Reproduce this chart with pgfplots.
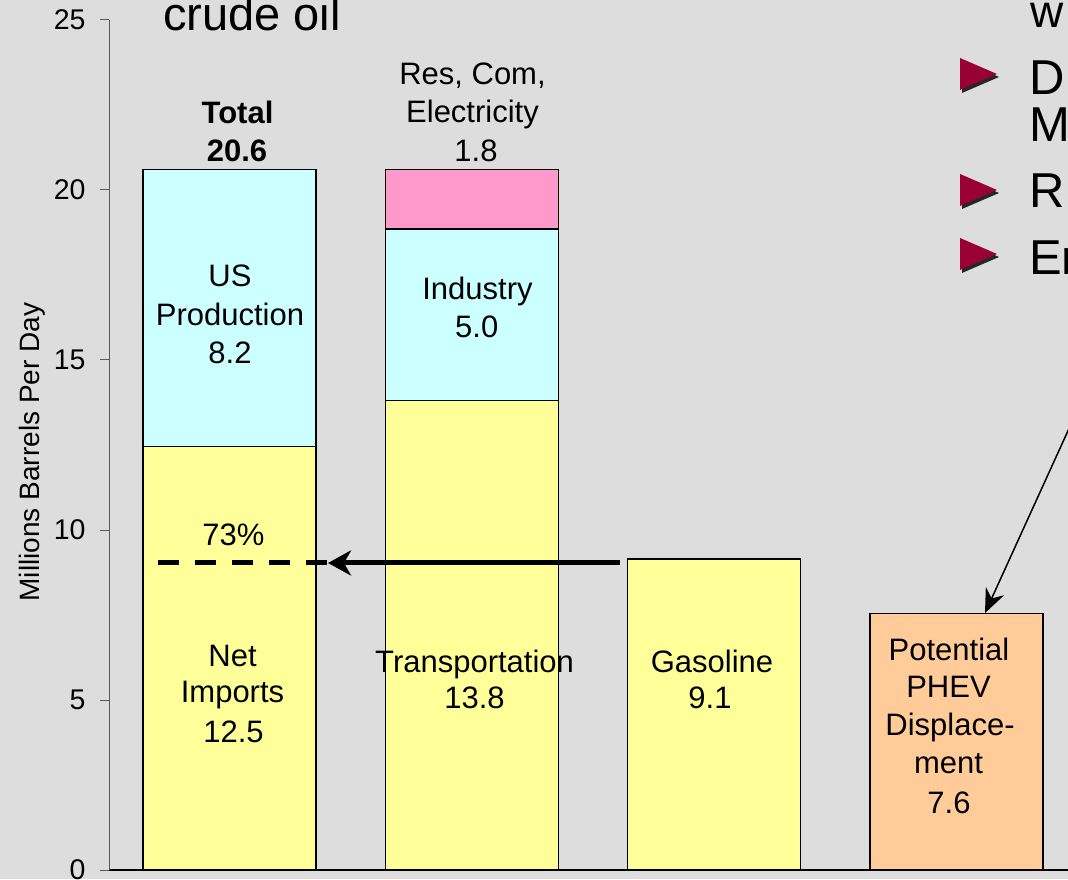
\documentclass[border=0pt]{standalone}
\usepackage{pgfplots}
\pgfplotsset{compat=1.18}
\usepackage{fontspec}
\setmainfont{Liberation Sans}
\usetikzlibrary{arrows.meta}
\definecolor{bg}{HTML}{DDDDDD}
\definecolor{cyel}{HTML}{FFFF99}
\definecolor{ccyan}{HTML}{CCFFFF}
\definecolor{cpink}{HTML}{FF99CC}
\definecolor{corange}{HTML}{FFCC99}
\definecolor{bulletred}{HTML}{990033}
\newcommand\bl{\fontsize{31}{38}\selectfont}
\newcommand\T[4][\bl]{\node[anchor=base,inner sep=0pt,font=#1] at ({#2pt},{879pt-#3pt}) {#4};}
\begin{document}
\begin{tikzpicture}
\useasboundingbox (0pt,0pt) rectangle (1068pt,879pt);
\clip (0pt,0pt) rectangle (1068pt,879pt);
\fill[bg] (0pt,0pt) rectangle (1068pt,879pt);
\begin{axis}[
 at={(109pt,9pt)}, anchor=south west, scale only axis,
 width=959pt, height=850pt,
 xmin=-0.4973, xmax=3.4601, ymin=0, ymax=25,
 axis x line=bottom, axis y line=left,
 axis line style={-},
 x axis line style={-, black, line width=1.3pt},
 y axis line style={-, black!65, line width=1pt},
 xtick=\empty,
 ytick={0,5,10,15,20,25},
 tick align=outside, major tick length=9pt,
 ytick style={black!65, line width=1pt},
 yticklabel style={font=\fontsize{28.5}{30}\selectfont, xshift=-11pt},
 /pgf/number format/assume math mode=true,
 ybar stacked, bar width=173pt,
 every axis plot/.append style={draw=black, line width=1.3pt},
 clip=false,
]
\addplot[fill=cyel] coordinates {(0,12.45) (1,13.8) (2,9.15) (3,0)};
\addplot[fill=ccyan] coordinates {(0,8.15) (1,5.05) (2,0) (3,0)};
\addplot[fill=cpink] coordinates {(0,0) (1,1.75) (2,0) (3,0)};
\addplot[fill=corange] coordinates {(0,0) (1,0) (2,0) (3,7.55)};
\end{axis}
% arrows
\draw[line width=5pt, dash pattern=on 21pt off 16pt] (158pt,316pt) -- (330pt,316pt);
\draw[line width=5pt, -{Stealth[length=23pt,width=25pt,inset=7pt]}] (620pt,316pt) -- (328pt,316pt);
\draw[line width=1.5pt, -{Stealth[length=24pt,width=20pt,inset=8pt]}] (1082pt,479pt) -- (985pt,266pt);
% bar labels
\T[\fontsize{31}{38}\selectfont\bfseries]{237.5}{124}{Total}
\T[\fontsize{31}{38}\selectfont\bfseries]{237}{162}{20.6}
\T{230}{287}{US}
\T{230}{326}{Production}
\T{230}{364}{8.2}
\T{233.5}{546}{73\%}
\T{232.5}{666}{Net}
\T{232.5}{702}{Imports}
\T{233.5}{742}{12.5}
\T{472.5}{85}{Res, Com,}
\T{472.5}{123}{Electricity}
\T{476}{162}{1.8}
\T{477.5}{300}{Industry}
\T{476.7}{338}{5.0}
\T{474.6}{672}{Transportation}
\T{474.5}{708}{13.8}
\T{712}{672}{Gasoline}
\T{710}{708}{9.1}
\T{949}{660}{Potential}
\T{948.5}{697}{PHEV}
\T{950}{735}{Displace-}
\T{948.5}{773}{ment}
\T{949}{813}{7.6}
% y label
\node[rotate=90, anchor=base, inner sep=0pt, font=\fontsize{28}{30}\selectfont] at (39pt,427pt) {Millions Barrels Per Day};
% title fragment
\node[anchor=base west, inner sep=0pt, font=\fontsize{47}{50}\selectfont] at (163pt,848pt) {crude oil};
% bullets on the right
\node[anchor=base west, inner sep=0pt, font=\fontsize{46}{50}\selectfont] at (1030pt,851pt) {w};
\foreach \ty in {58,174,238}{
  \fill[black!85] (962pt,{879pt-(\ty pt)-3pt}) -- (999pt,{879pt-(\ty pt)-19pt}) -- (962pt,{879pt-(\ty pt)-35pt}) -- cycle;
  \fill[bulletred] (960pt,{879pt-\ty pt}) -- (997pt,{879pt-(\ty pt)-16pt}) -- (960pt,{879pt-(\ty pt)-32pt}) -- cycle;
}
\node[anchor=base west, inner sep=0pt, font=\fontsize{49}{52}\selectfont] at (1029pt,784pt) {D};
\node[anchor=base west, inner sep=0pt, font=\fontsize{49}{52}\selectfont] at (1029pt,737pt) {M};
\node[anchor=base west, inner sep=0pt, font=\fontsize{49}{52}\selectfont] at (1029pt,671pt) {R};
\node[anchor=base west, inner sep=0pt, font=\fontsize{49}{52}\selectfont] at (1029pt,604pt) {Er};
\end{tikzpicture}
\end{document}
